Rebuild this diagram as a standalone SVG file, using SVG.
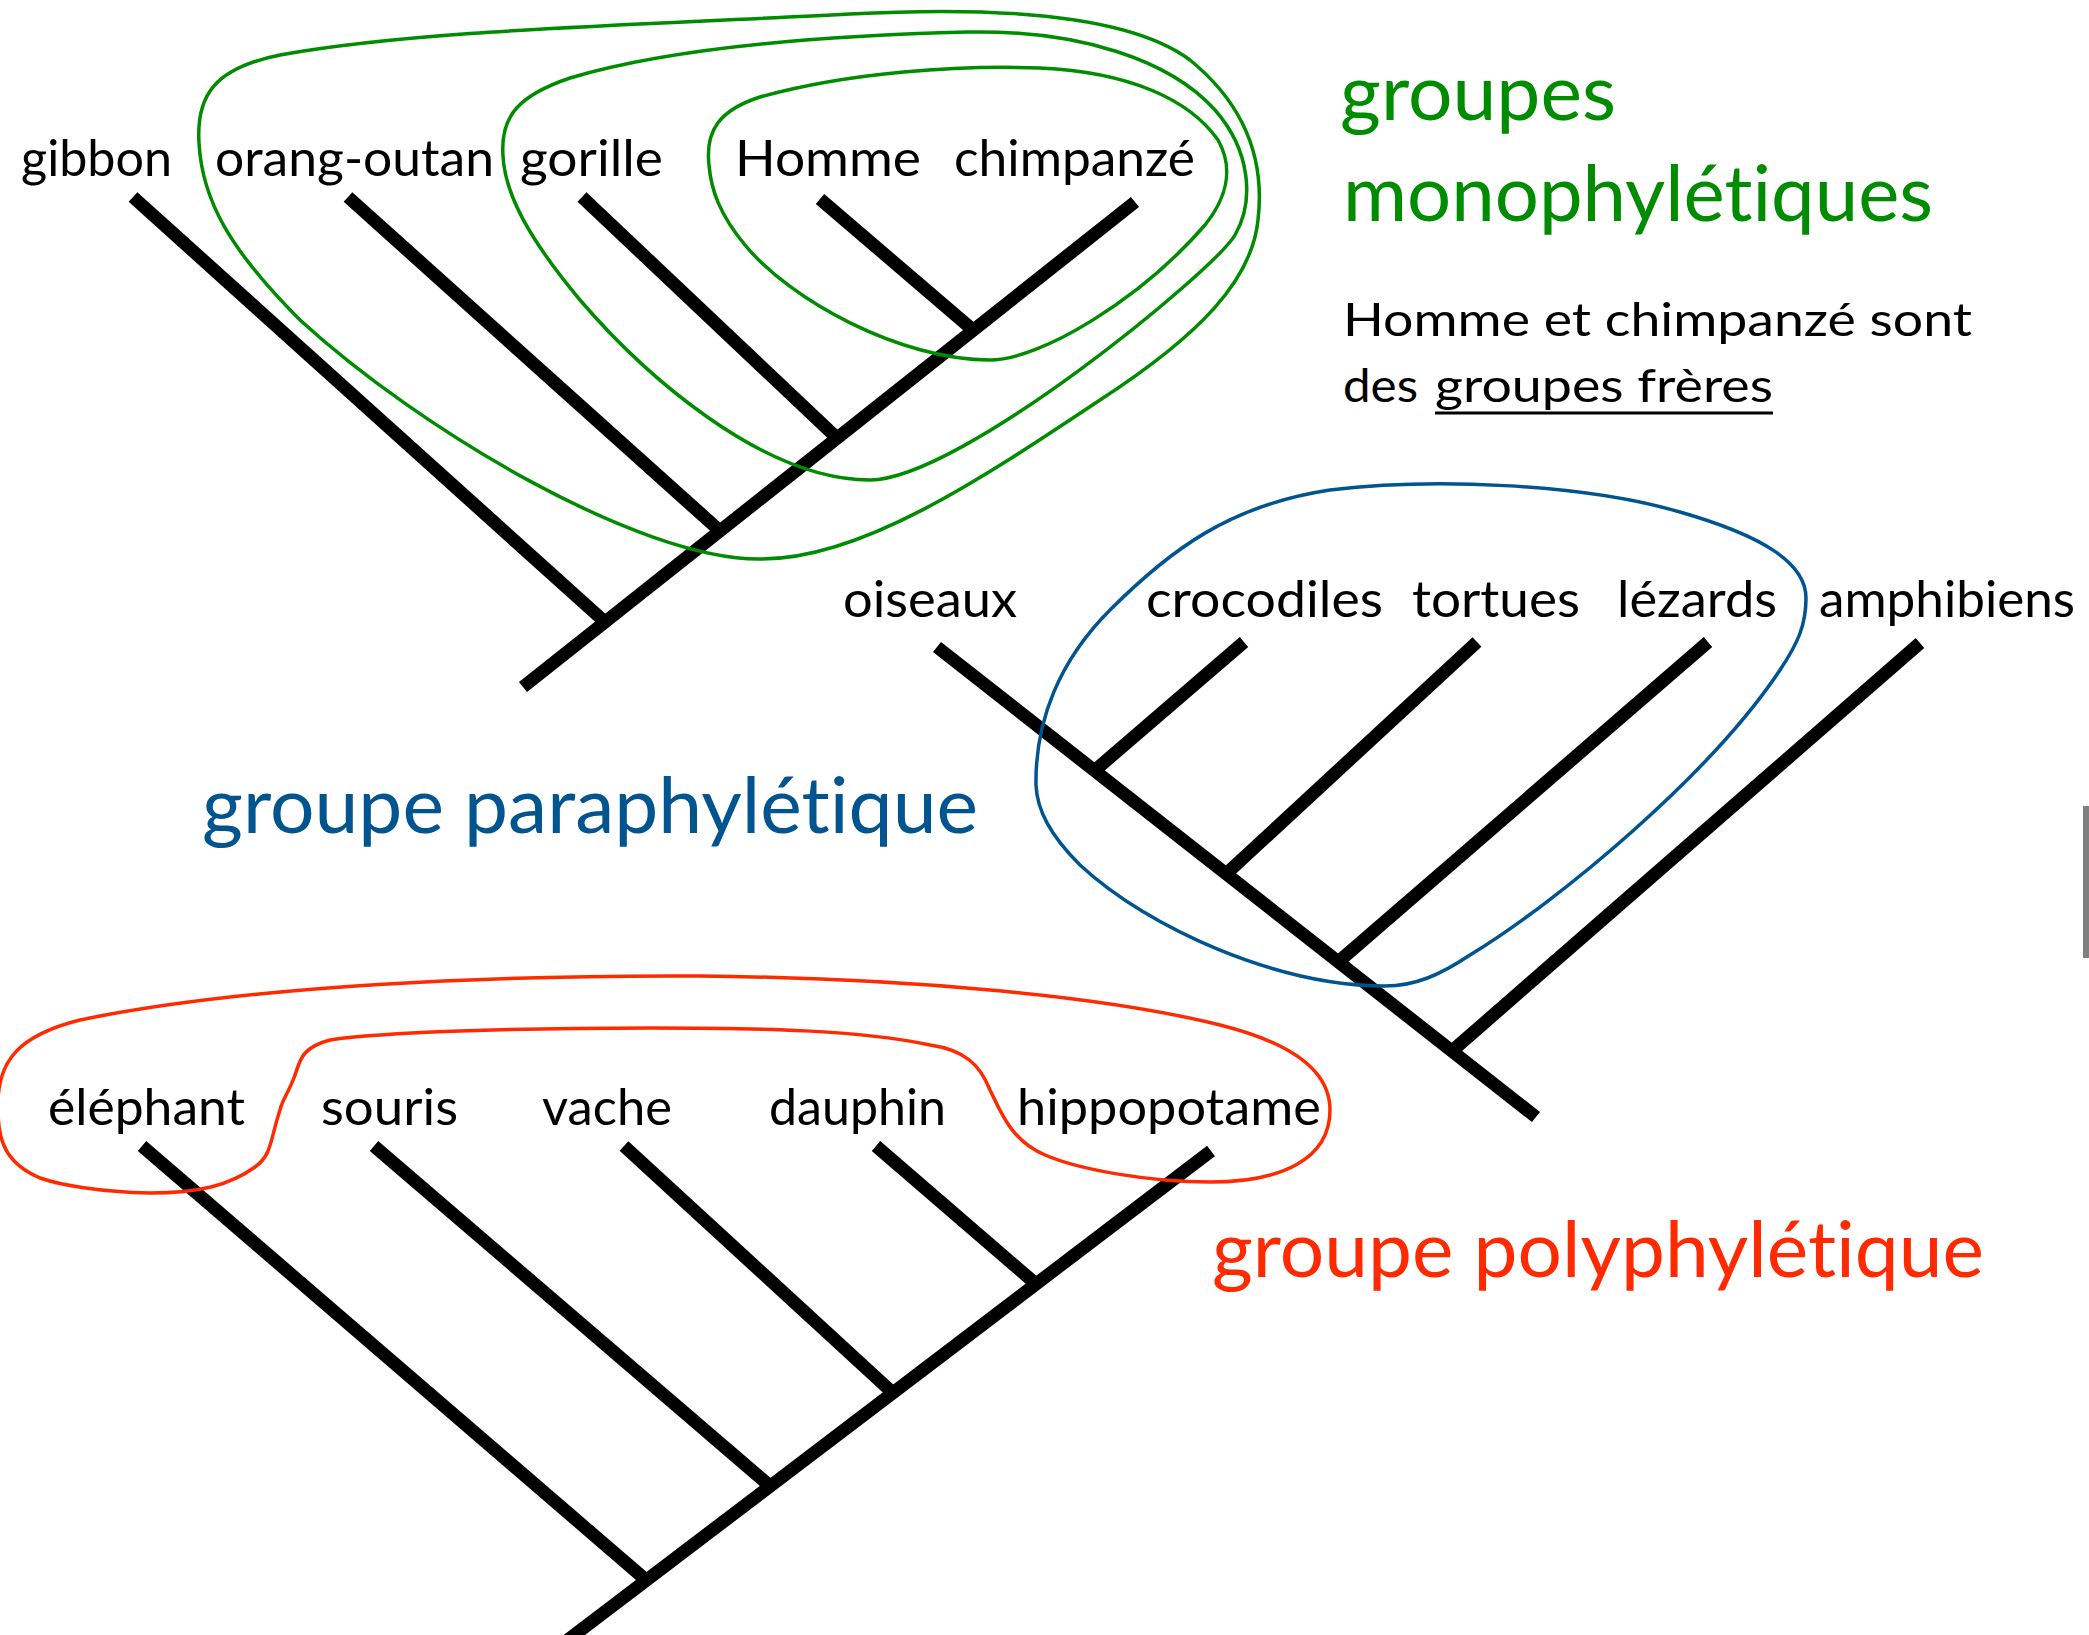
<svg xmlns="http://www.w3.org/2000/svg" width="2089" height="1635" viewBox="0 0 2089 1635">
<style>
  text { font-family: Lato, "Liberation Sans", sans-serif; font-variant-ligatures: none; font-feature-settings: "liga" 0, "clig" 0; }
  .br { stroke: #000; stroke-width: 13; stroke-linecap: butt; fill: none; }
  .lbl { font-size: 51px; fill: #000; }
  .big { font-size: 78px; }
  .txt { font-size: 46px; fill: #000; }
  .green { fill: #008c00; }
  .blue { fill: #00548f; }
  .red { fill: #ff2a00; }
  .gline { stroke: #008c00; stroke-width: 3.5; fill: none; }
  .bline { stroke: #00548f; stroke-width: 3.5; fill: none; }
  .rline { stroke: #ff2a00; stroke-width: 3.5; fill: none; }
</style>
<rect width="2089" height="1635" fill="#fff"/>

<g id="connectors">
  <!-- primate tree -->
  <line class="br" x1="523" y1="687" x2="1135" y2="202"/>
  <line class="br" x1="133" y1="197" x2="605" y2="622"/>
  <line class="br" x1="348" y1="197" x2="720" y2="531"/>
  <line class="br" x1="582" y1="197" x2="837" y2="438"/>
  <line class="br" x1="820" y1="199" x2="973" y2="330"/>
  <!-- reptile tree -->
  <line class="br" x1="937" y1="647" x2="1536" y2="1117"/>
  <line class="br" x1="1244" y1="642" x2="1093" y2="772"/>
  <line class="br" x1="1477" y1="642" x2="1226" y2="874"/>
  <line class="br" x1="1708" y1="642" x2="1337" y2="963"/>
  <line class="br" x1="1920" y1="643" x2="1452" y2="1051"/>
  <!-- mammal tree -->
  <line class="br" x1="1211" y1="1151" x2="548" y2="1655"/>
  <line class="br" x1="142" y1="1146" x2="646" y2="1580"/>
  <line class="br" x1="374" y1="1146" x2="770" y2="1486"/>
  <line class="br" x1="624" y1="1146" x2="893" y2="1393"/>
  <line class="br" x1="876" y1="1146" x2="1036" y2="1284"/>
</g>

<g id="group-monophyletic">
  <path class="gline" d="M 199,143 C 196,95 215,68 280,55 C 420,30 620,26 850,14 C 1000,6 1130,15 1190,60 C 1245,105 1265,160 1258,220 C 1252,280 1200,335 1100,400 C 980,480 860,560 760,559 C 640,560 420,430 300,320 C 230,250 202,200 199,143 Z"/>
  <path class="gline" d="M 503,156 C 500,115 520,95 570,78 C 680,45 850,35 968,32 C 1080,30 1170,60 1215,110 C 1250,150 1255,200 1235,235 C 1215,270 960,480 870,480 C 760,480 640,370 580,300 C 530,240 505,195 503,156 Z"/>
  <path class="gline" d="M 709,165 C 705,130 720,110 760,97 C 850,72 960,65 1040,68 C 1130,72 1190,100 1218,140 C 1235,170 1225,200 1205,225 C 1140,300 1040,360 990,360 C 900,360 790,300 745,245 C 720,215 711,190 709,165 Z"/>
</g>

<g id="group-paraphyletic">
  <path class="bline" d="M 1036,785 C 1035,720 1060,660 1110,610 C 1170,550 1230,505 1330,490 C 1430,478 1580,483 1680,512 C 1760,535 1806,562 1806,598 C 1806,625 1798,643 1780,670 C 1710,775 1560,900 1470,955 C 1440,975 1415,986 1385,986 C 1280,986 1150,930 1080,865 C 1050,835 1037,810 1036,785 Z"/>
</g>

<g id="group-polyphyletic">
  <path class="rline" d="M -2,1110 C -4,1060 20,1035 80,1020 C 250,985 500,975 700,976 C 900,978 1100,995 1220,1025 C 1300,1045 1330,1075 1330,1110 C 1330,1160 1280,1182 1210,1182 C 1150,1182 1080,1170 1045,1155 C 1010,1140 1000,1110 990,1090 C 980,1065 965,1050 930,1045 C 860,1030 760,1028 650,1028 C 520,1028 380,1032 330,1040 C 300,1048 300,1062 295,1075 C 290,1090 282,1100 280,1110 C 270,1140 272,1155 255,1167 C 230,1185 200,1193 150,1193 C 100,1192 60,1185 40,1178 C 5,1163 -2,1140 -2,1110 Z"/>
</g>

<g id="node-gibbon"><text class="lbl" x="21" y="176" textLength="151" lengthAdjust="spacingAndGlyphs">gibbon</text></g>
<g id="node-orang-outan"><text class="lbl" x="215" y="176" textLength="279" lengthAdjust="spacingAndGlyphs">orang-outan</text></g>
<g id="node-gorille"><text class="lbl" x="520" y="176" textLength="143" lengthAdjust="spacingAndGlyphs">gorille</text></g>
<g id="node-homme"><text class="lbl" x="735" y="176" textLength="186" lengthAdjust="spacingAndGlyphs">Homme</text></g>
<g id="node-chimpanze"><text class="lbl" x="954" y="176" textLength="241" lengthAdjust="spacingAndGlyphs">chimpanzé</text></g>

<g id="node-oiseaux"><text class="lbl" x="843" y="617" textLength="174" lengthAdjust="spacingAndGlyphs">oiseaux</text></g>
<g id="node-crocodiles"><text class="lbl" x="1146" y="617" textLength="237" lengthAdjust="spacingAndGlyphs">crocodiles</text></g>
<g id="node-tortues"><text class="lbl" x="1412" y="617" textLength="168" lengthAdjust="spacingAndGlyphs">tortues</text></g>
<g id="node-lezards"><text class="lbl" x="1617" y="617" textLength="160" lengthAdjust="spacingAndGlyphs">lézards</text></g>
<g id="node-amphibiens"><text class="lbl" x="1819" y="617" textLength="256" lengthAdjust="spacingAndGlyphs">amphibiens</text></g>

<g id="node-elephant"><text class="lbl" x="48" y="1125" textLength="197" lengthAdjust="spacingAndGlyphs">éléphant</text></g>
<g id="node-souris"><text class="lbl" x="321" y="1125" textLength="137" lengthAdjust="spacingAndGlyphs">souris</text></g>
<g id="node-vache"><text class="lbl" x="542" y="1125" textLength="130" lengthAdjust="spacingAndGlyphs">vache</text></g>
<g id="node-dauphin"><text class="lbl" x="769" y="1125" textLength="177" lengthAdjust="spacingAndGlyphs">dauphin</text></g>
<g id="node-hippopotame"><text class="lbl" x="1017" y="1125" textLength="304" lengthAdjust="spacingAndGlyphs">hippopotame</text></g>

<g id="title-monophyletic">
  <text class="big green" x="1340" y="120" textLength="276" lengthAdjust="spacingAndGlyphs">groupes</text>
  <text class="big green" x="1343" y="221" textLength="590" lengthAdjust="spacingAndGlyphs">monophylétiques</text>
</g>
<g id="note-sister">
  <text class="txt" x="1343" y="336" textLength="629" lengthAdjust="spacingAndGlyphs">Homme et chimpanzé sont</text>
  <text class="txt" x="1343" y="402" textLength="75" lengthAdjust="spacingAndGlyphs">des</text>
  <text class="txt" x="1435" y="402" textLength="338" lengthAdjust="spacingAndGlyphs">groupes frères</text>
  <line x1="1435" y1="413" x2="1773" y2="413" stroke="#000" stroke-width="3"/>
</g>
<g id="title-paraphyletic">
  <text class="big blue" x="202" y="833" textLength="776" lengthAdjust="spacingAndGlyphs">groupe paraphylétique</text>
</g>
<g id="title-polyphyletic">
  <text class="big red" x="1212" y="1277" textLength="772" lengthAdjust="spacingAndGlyphs">groupe polyphylétique</text>
</g>

<rect x="2083" y="806" width="6" height="152" fill="#808080"/>
</svg>
